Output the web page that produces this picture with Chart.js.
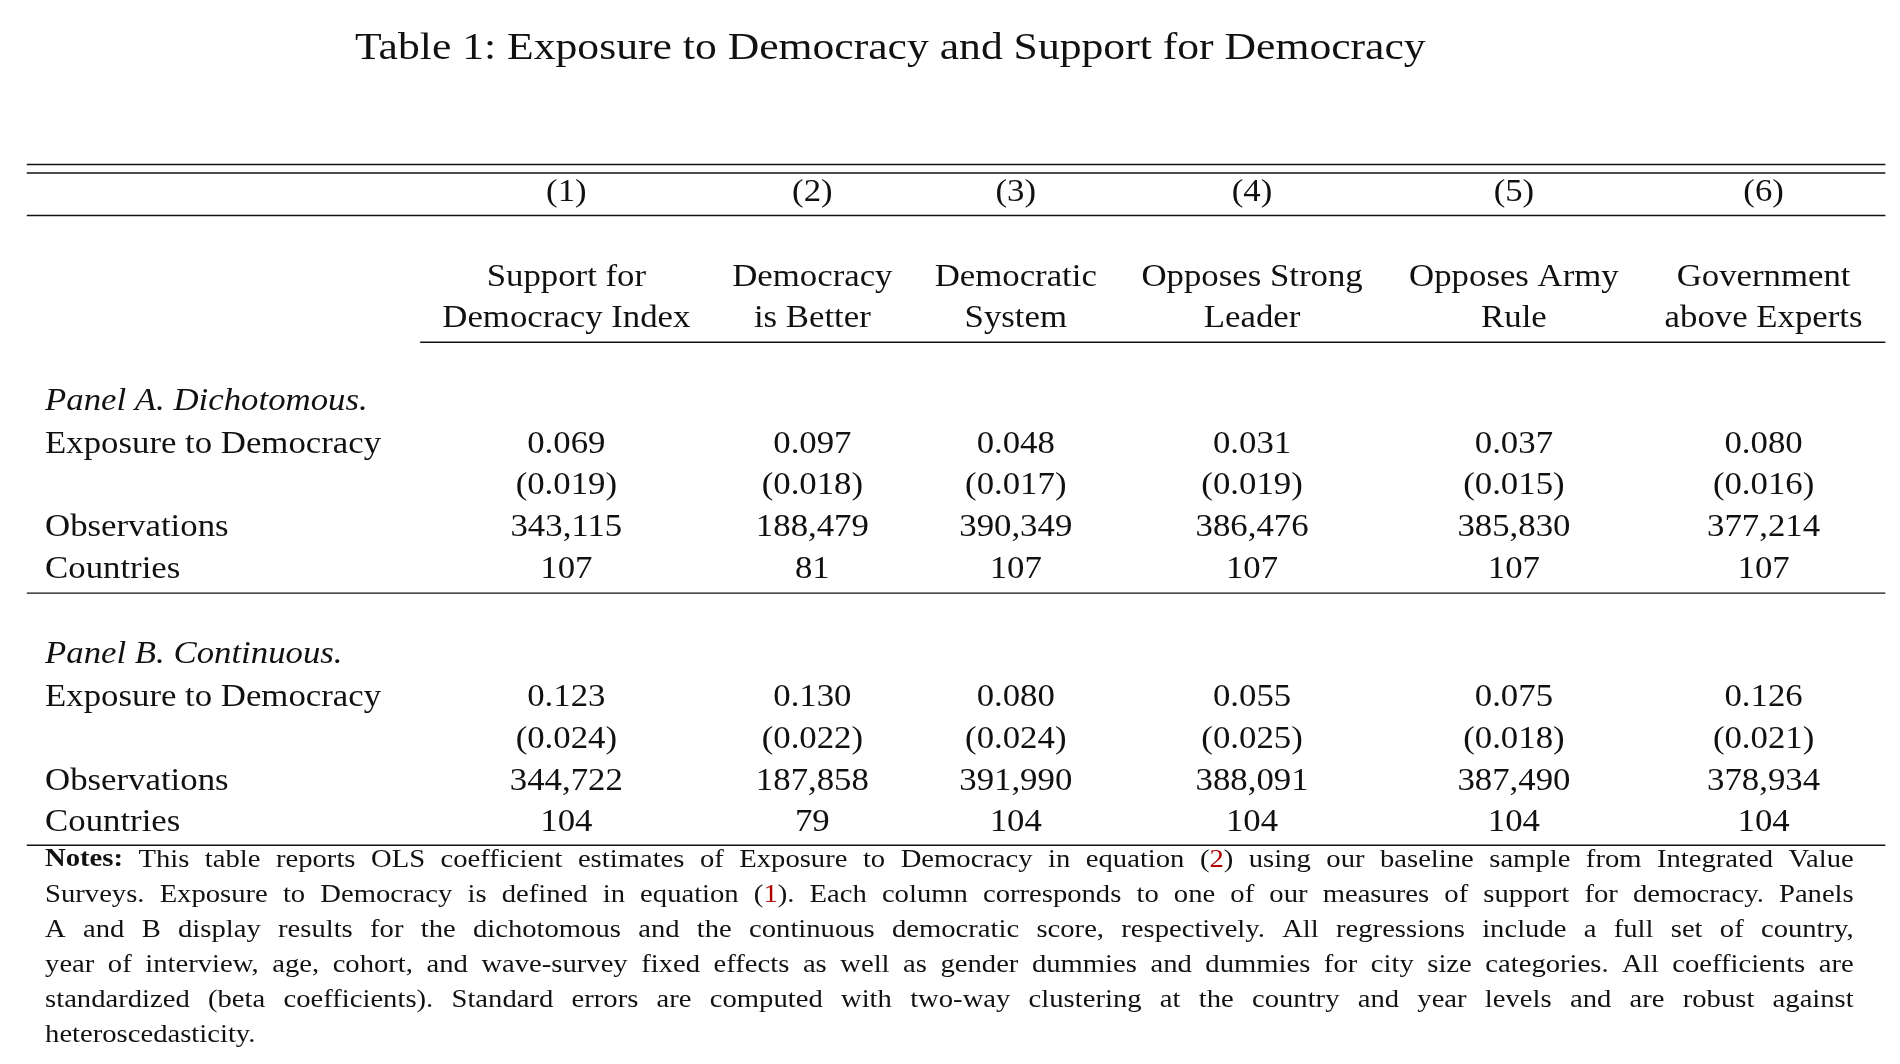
<!DOCTYPE html>
<html><head><meta charset="utf-8">
<script src="https://cdn.jsdelivr.net/npm/chart.js@4"></script>
<style>html,body{margin:0;background:#fff}</style>
</head><body>
<canvas id="c" width="1900" height="1064"></canvas>
<script>
// table content
const title = "Table 1: Exposure to Democracy and Support for Democracy";
const colNums = ["(1)", "(2)", "(3)", "(4)", "(5)", "(6)"];
const headTop = ["Support for", "Democracy", "Democratic", "Opposes Strong", "Opposes Army", "Government"];
const headBot = ["Democracy Index", "is Better", "System", "Leader", "Rule", "above Experts"];
const rowLabels = ["Exposure to Democracy", "", "Observations", "Countries"];
const panelA = "Panel A. Dichotomous.";
const coefA = ["0.069", "0.097", "0.048", "0.031", "0.037", "0.080"];
const seA = ["(0.019)", "(0.018)", "(0.017)", "(0.019)", "(0.015)", "(0.016)"];
const obsA = ["343,115", "188,479", "390,349", "386,476", "385,830", "377,214"];
const ctyA = ["107", "81", "107", "107", "107", "107"];
const panelB = "Panel B. Continuous.";
const coefB = ["0.123", "0.130", "0.080", "0.055", "0.075", "0.126"];
const seB = ["(0.024)", "(0.022)", "(0.024)", "(0.025)", "(0.018)", "(0.021)"];
const obsB = ["344,722", "187,858", "391,990", "388,091", "387,490", "378,934"];
const ctyB = ["104", "79", "104", "104", "104", "104"];
const notes = [
  "**Notes:** This table reports OLS coefficient estimates of Exposure to Democracy in equation (#2#) using our baseline sample from Integrated Value",
  "Surveys. Exposure to Democracy is defined in equation (#1#). Each column corresponds to one of our measures of support for democracy. Panels",
  "A and B display results for the dichotomous and the continuous democratic score, respectively. All regressions include a full set of country,",
  "year of interview, age, cohort, and wave-survey fixed effects as well as gender dummies and dummies for city size categories. All coefficients are",
  "standardized (beta coefficients). Standard errors are computed with two-way clustering at the country and year levels and are robust against",
  "heteroscedasticity."
];

// layout (in reference units, mapped via scales)
const colX = [465, 667, 834, 1028, 1243, 1448];
const SERIF = '"Liberation Serif", "DejaVu Serif", serif';
const STRETCH = 1.12;

const tablePlugin = {
  id: 'table',
  afterDraw(chart) {
    const ctx = chart.ctx, sx = chart.scales.x, sy = chart.scales.y;
    const X = v => sx.getPixelForValue(v), Y = v => sy.getPixelForValue(v);
    const k = X(1) - X(0);
    ctx.save();
    ctx.fillStyle = '#111';
    ctx.textBaseline = 'middle';
    const txt = (s, x, y, size, align, style) => {
      ctx.font = (style || '') + ' ' + (size * k) + 'px ' + SERIF;
      const w = ctx.measureText(s).width * STRETCH;
      let px = X(x);
      if (align !== 'left') px -= w / 2;
      ctx.save();
      ctx.translate(px, Y(y));
      ctx.scale(STRETCH, 1);
      ctx.textAlign = 'left';
      ctx.fillText(s, 0, 0);
      ctx.restore();
    };
    const rule = (x0, x1, y, w) => {
      ctx.beginPath(); ctx.lineWidth = (w || 1.2) * k; ctx.strokeStyle = '#111';
      ctx.moveTo(X(x0), Y(y)); ctx.lineTo(X(x1), Y(y)); ctx.stroke();
    };
    txt(title, 731, 40, 32);
    rule(22, 1548, 135); rule(22, 1548, 142); rule(22, 1548, 177);
    colNums.forEach((s, i) => txt(s, colX[i], 158, 25.5));
    headTop.forEach((s, i) => txt(s, colX[i], 228, 25.5));
    headBot.forEach((s, i) => txt(s, colX[i], 262, 25.5));
    rule(345, 1548, 281);
    const panel = (name, y0, rows) => {
      txt(name, 37, y0, 25.5, 'left', 'italic');
      rowLabels.forEach((s, r) => { if (s) txt(s, 37, y0 + 35 + r * 34.3, 25.5, 'left'); });
      rows.forEach((arr, r) => arr.forEach((s, i) => txt(s, colX[i], y0 + 35 + r * 34.3, 25.5)));
    };
    panel(panelA, 330, [coefA, seA, obsA, ctyA]);
    rule(22, 1548, 487);
    panel(panelB, 538, [coefB, seB, obsB, ctyB]);
    rule(22, 1548, 694);
    // notes, justified
    const ns = 21 * k;
    const left = X(37), right = X(1522);
    notes.forEach((line, li) => {
      const words = line.split(' ').map(w => {
        const bold = w.startsWith('**'), t = w.replace(/\*\*/g, '');
        return { bold, parts: t.split('#') };
      });
      const wWidth = w => w.parts.reduce((a, p) => {
        ctx.font = (w.bold ? 'bold ' : '') + ns + 'px ' + SERIF; return a + ctx.measureText(p).width * STRETCH;
      }, 0);
      const widths = words.map(wWidth);
      const total = widths.reduce((a, b) => a + b, 0);
      const last = li === notes.length - 1;
      ctx.font = ns + 'px ' + SERIF;
      const gap = last ? ctx.measureText(' ').width * STRETCH : (right - left - total) / (words.length - 1);
      let x = left; const y = Y(706 + li * 28.8);
      words.forEach(w => {
        w.parts.forEach((p, pi) => {
          ctx.font = (w.bold ? 'bold ' : '') + ns + 'px ' + SERIF;
          ctx.fillStyle = pi % 2 ? '#b00000' : '#111';
          ctx.save();
          ctx.translate(x, y); ctx.scale(STRETCH, 1);
          ctx.textAlign = 'left';
          ctx.fillText(p, 0, 0);
          ctx.restore();
          x += ctx.measureText(p).width * STRETCH;
        });
        x += gap;
      });
    });
    ctx.restore();
  }
};

new Chart(document.getElementById('c'), {
  type: 'scatter',
  data: { datasets: [{ data: [] }] },
  options: {
    responsive: false, animation: false, devicePixelRatio: 1,
    layout: { padding: 0 },
    plugins: { legend: { display: false }, tooltip: { enabled: false } },
    scales: {
      x: { type: 'linear', min: 0, max: 1560, display: false },
      y: { type: 'linear', min: 0, max: 873.6, reverse: true, display: false }
    }
  },
  plugins: [tablePlugin]
});
</script>
</body></html>
